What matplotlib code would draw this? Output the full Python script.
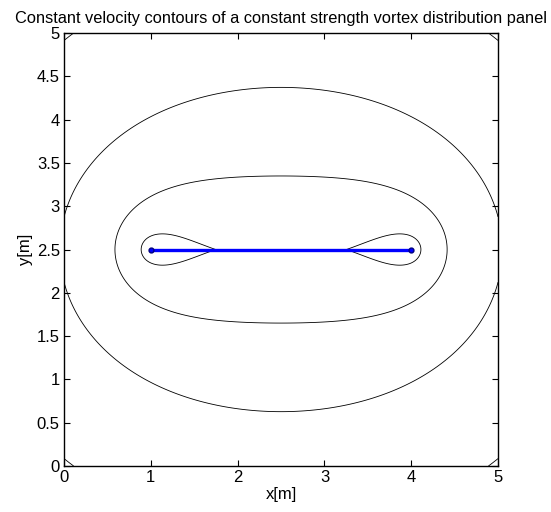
import numpy as np
import matplotlib
matplotlib.use('Agg')
import matplotlib.pyplot as plt

plt.rcParams['font.family'] = ['Liberation Sans', 'DejaVu Sans']

# panel end points and strength
panel_x = [1.0, 4.0]
panel_y = [2.5, 2.5]
gamma = 1.0
# velocity magnitude levels drawn
levels = [0.137, 0.215, 0.336, 0.53]

xg = np.linspace(0, 5, 501)
yg = np.linspace(0, 5, 501)
X, Y = np.meshgrid(xg, yg)

# velocity induced by a constant strength vortex panel
dy = Y - panel_y[0]
th1 = np.arctan2(dy, X - panel_x[0])
th2 = np.arctan2(dy, X - panel_x[1])
r1 = np.hypot(X - panel_x[0], dy)
r2 = np.hypot(X - panel_x[1], dy)
u = gamma / (2 * np.pi) * (th2 - th1)
v = gamma / (2 * np.pi) * np.log(r2 / np.maximum(r1, 1e-9))
V = np.hypot(u, v)

fig = plt.figure(figsize=(5.51, 5.12), dpi=100)
ax = fig.add_axes([0.1162, 0.0898, 0.7877, 0.8457])

ax.contour(X, Y, V, levels=levels, colors='k', linewidths=0.6)
ax.plot(panel_x, panel_y, '-', color='#0000ff', lw=2.4,
        marker='o', markersize=3.5, markeredgecolor='#000080', markerfacecolor='#0000ff')

ax.set_xlim(0, 5)
ax.set_ylim(0, 5)
ax.set_xticks([0, 1, 2, 3, 4, 5])
ax.set_yticks(np.arange(0, 5.01, 0.5))
ax.set_yticklabels(['0', '0.5', '1', '1.5', '2', '2.5', '3', '3.5', '4', '4.5', '5'])
ax.tick_params(direction='in', top=True, right=True, labelsize=12, length=4, pad=3)
for s in ax.spines.values():
    s.set_linewidth(1.0)

ax.set_xlabel('x[m]', fontsize=12, labelpad=1)
ax.set_ylabel('y[m]', fontsize=12, labelpad=3)
ax.set_title('Constant velocity contours of a constant strength vortex distribution panel',
             fontsize=11.8, pad=7)

fig.savefig('out.png', dpi=100)
